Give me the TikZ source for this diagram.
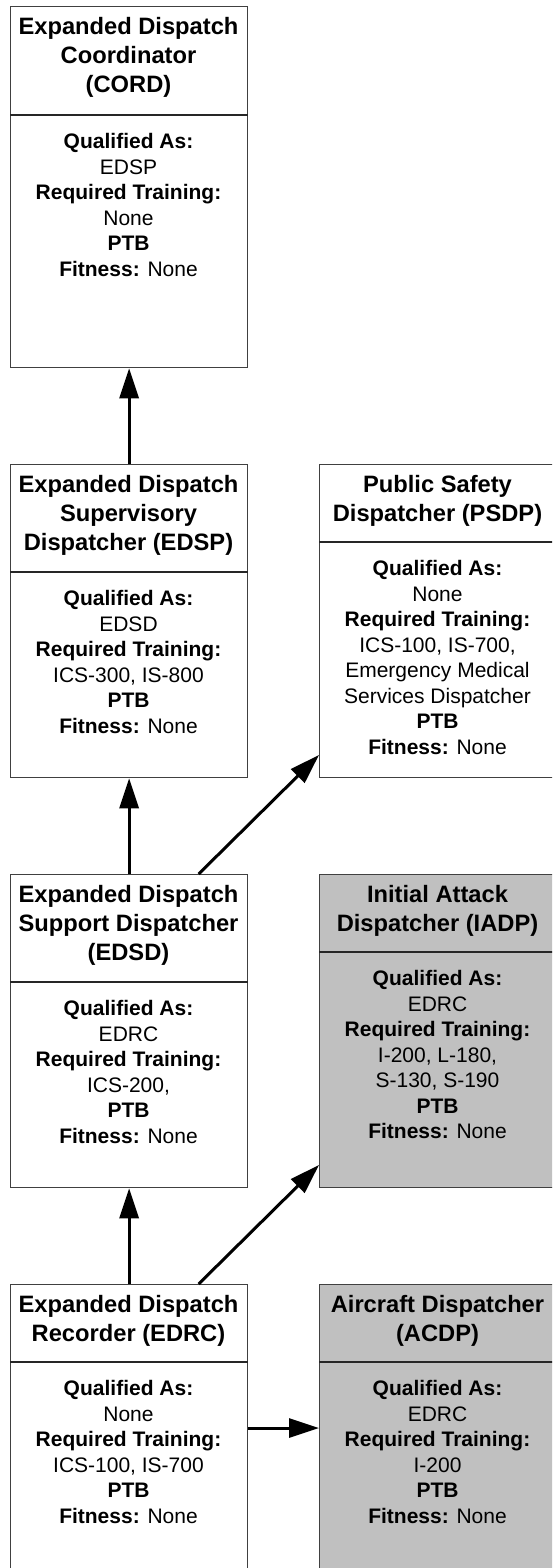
\documentclass[tikz,border=0pt]{standalone}
\usepackage{fontspec}
\setmainfont{Liberation Sans}
\usetikzlibrary{arrows.meta}
\definecolor{silverfill}{HTML}{C0C0C0}
\newcommand{\tstrut}{\rule{0pt}{20pt}}
\newcommand{\bstrut}{\rule{0pt}{18pt}}
\begin{document}
\begin{tikzpicture}[x=1pt,y=-1pt,
  box/.style={draw=black!75, line width=1.3pt, rectangle, inner sep=0pt, minimum width=237pt, anchor=north west},
  grey/.style={fill=silverfill},
  div/.style={draw=black!85, line width=1.1pt},
  ttl/.style={font=\fontsize{23.7}{29}\selectfont\bfseries, align=center, inner sep=0pt, anchor=north},
  bod/.style={font=\fontsize{21}{25.5}\selectfont, align=center, inner sep=0pt, anchor=north},
  arr/.style={draw=black, line width=3pt, -{Triangle[length=30pt,width=19pt]}}]
\useasboundingbox (0,0) rectangle (552,1568);
\fill[white] (0,0) rectangle (552,1568);
\clip (0,0) rectangle (552,1568);

% boxes
\node[box, minimum height=361pt] (cord) at (10,6) {};
\node[box, minimum height=313pt] (edsp) at (10,464) {};
\node[box, minimum height=313pt] (psdp) at (319,464) {};
\node[box, minimum height=313pt] (edsd) at (10,874) {};
\node[box, grey, minimum height=313pt] (iadp) at (319,874) {};
\node[box, minimum height=330pt] (edrc) at (10,1284) {};
\node[box, grey, minimum height=330pt] (acdp) at (319,1284) {};

% dividers
\draw[div] ([yshift=-109pt]cord.north west) -- ([yshift=-109pt]cord.north east);
\draw[div] ([yshift=-108pt]edsp.north west) -- ([yshift=-108pt]edsp.north east);
\draw[div] ([yshift=-78pt]psdp.north west) -- ([yshift=-78pt]psdp.north east);
\draw[div] ([yshift=-108pt]edsd.north west) -- ([yshift=-108pt]edsd.north east);
\draw[div] ([yshift=-78pt]iadp.north west) -- ([yshift=-78pt]iadp.north east);
\draw[div] ([yshift=-78pt]edrc.north west) -- ([yshift=-78pt]edrc.north east);
\draw[div] ([yshift=-78pt]acdp.north west) -- ([yshift=-78pt]acdp.north east);

% titles
\node[ttl] (cordT) at (128.5,14) {\tstrut Expanded Dispatch\\Coordinator\\(CORD)};
\node[ttl] (edspT) at (128.5,472) {\tstrut Expanded Dispatch\\Supervisory\\Dispatcher (EDSP)};
\node[ttl] (psdpT) at (437.5,472) {\tstrut Public Safety\\Dispatcher (PSDP)};
\node[ttl] (edsdT) at (128.5,882) {\tstrut Expanded Dispatch\\Support Dispatcher\\(EDSD)};
\node[ttl] (iadpT) at (437.5,882) {\tstrut Initial Attack\\Dispatcher (IADP)};
\node[ttl] (edrcT) at (128.5,1292) {\tstrut Expanded Dispatch\\Recorder (EDRC)};
\node[ttl] (acdpT) at (437.5,1292) {\tstrut Aircraft Dispatcher\\(ACDP)};

% bodies
\node[bod] (cordB) at (128.5,130.5) {\bstrut\textbf{Qualified As:}\\EDSP\\\textbf{Required Training:}\\None\\\textbf{PTB}\\\textbf{Fitness:} None};
\node[bod] (edspB) at (128.5,587.5) {\bstrut\textbf{Qualified As:}\\EDSD\\\textbf{Required Training:}\\ICS-300, IS-800\\\textbf{PTB}\\\textbf{Fitness:} None};
\node[bod] (psdpB) at (437.5,557.5) {\bstrut\textbf{Qualified As:}\\None\\\textbf{Required Training:}\\ICS-100, IS-700,\\Emergency Medical\\Services Dispatcher\\\textbf{PTB}\\\textbf{Fitness:} None};
\node[bod] (edsdB) at (128.5,997.5) {\bstrut\textbf{Qualified As:}\\EDRC\\\textbf{Required Training:}\\ICS-200,\\\textbf{PTB}\\\textbf{Fitness:} None};
\node[bod] (iadpB) at (437.5,967.5) {\bstrut\textbf{Qualified As:}\\EDRC\\\textbf{Required Training:}\\I-200, L-180,\\S-130, S-190\\\textbf{PTB}\\\textbf{Fitness:} None};
\node[bod] (edrcB) at (128.5,1377.5) {\bstrut\textbf{Qualified As:}\\None\\\textbf{Required Training:}\\ICS-100, IS-700\\\textbf{PTB}\\\textbf{Fitness:} None};
\node[bod] (acdpB) at (437.5,1377.5) {\bstrut\textbf{Qualified As:}\\EDRC\\\textbf{Required Training:}\\I-200\\\textbf{PTB}\\\textbf{Fitness:} None};

% connectors
\draw[arr] (edsp.north) -- (cord.south);
\draw[arr] (edsd.north) -- (edsp.south);
\draw[arr] ([xshift=69.5pt]edsd.north) -- ([yshift=-291pt]psdp.north west);
\draw[arr] (edrc.north) -- (edsd.south);
\draw[arr] ([xshift=69.5pt]edrc.north) -- ([yshift=-291pt]iadp.north west);
\draw[arr] ([yshift=-144pt]edrc.north east) -- ([yshift=-144pt]acdp.north west);
\end{tikzpicture}
\end{document}
